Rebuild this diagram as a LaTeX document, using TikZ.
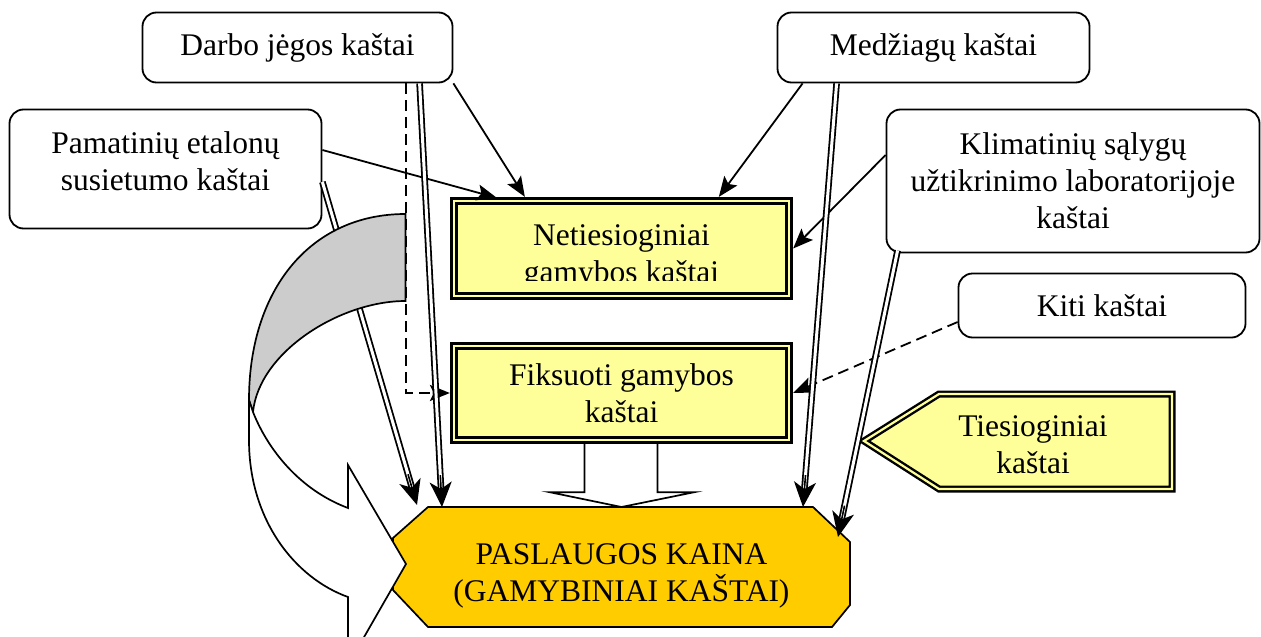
\documentclass[tikz,border=0pt]{standalone}
\usepackage{fontspec}
\setmainfont{Liberation Serif}
\usetikzlibrary{arrows.meta,calc}
\definecolor{ylw}{HTML}{FFFF99}
\definecolor{goldfill}{HTML}{FFCC00}
\definecolor{grayband}{HTML}{CCCCCC}
\begin{document}
\begin{tikzpicture}[x=1pt,y=-1pt,
  txt/.style={font=\fontsize{31.5}{37}\selectfont, align=center},
  rbox/.style={txt, draw, line width=1.8pt, rounded corners=14pt, fill=white, inner sep=0pt},
  ybox/.style={draw, line width=2.7pt, double=ylw, double distance=2.4pt, fill=ylw, inner sep=0pt, outer sep=3.9pt},
  conn/.style={line width=1.8pt, -{Stealth[length=20pt,width=16pt,inset=4pt]}},
  dsh/.style={conn, dash pattern=on 11pt off 6pt},
  dbl/.style={line width=1.8pt, double=white, double distance=3pt, shorten >=16pt},
  headonly/.style={line width=1.6pt, -{Stealth[length=25pt,width=22pt,inset=7pt]}},
  shapeline/.style={line width=1.7pt},
]
\clip (0,0) rectangle (1261,637);

% rounded boxes
\node[rbox, minimum width=310, minimum height=70] (darbo) at (297.5,47.5) {Darbo jėgos kaštai};
\node[rbox, minimum width=312, minimum height=70] (med) at (933.5,47.5) {Medžiagų kaštai};
\node[rbox, minimum width=312, minimum height=119, text depth=16pt] (pam) at (165.5,169) {Pamatinių etalonų\\susietumo kaštai};
\node[rbox, minimum width=373, minimum height=143] (klim) at (1073,181) {Klimatinių sąlygų\\užtikrinimo laboratorijoje\\kaštai};
\node[rbox, minimum width=287, minimum height=64] (kiti) at (1102,305.5) {Kiti kaštai};

% yellow boxes
\node[ybox, minimum width=335.5, minimum height=95.5] (net) at (621.5,248.5) {};
\begin{scope}
  \clip (450,197) rectangle (793,280);
  \node[txt, anchor=base, inner sep=0pt] (nettxt) at (621.5,282) {Netiesioginiai\\gamybos kaštai};
\end{scope}
\node[ybox, txt, minimum width=335.5, minimum height=94.5] (fiks) at (621.5,393) {Fiksuoti gamybos\\kaštai};

% price octagon
\draw[shapeline, fill=goldfill] (428,507) -- (813,507) -- (850,542) -- (850,605) -- (832,627) -- (428,627) -- (393,590) -- (393,538) -- cycle;
\node[minimum width=457, minimum height=120, inner sep=0pt, outer sep=0pt] (price) at (621.5,567) {};
\node[txt, anchor=base, inner sep=0pt] (pricetxt) at (621.5,601) {PASLAUGOS KAINA\\(GAMYBINIAI KAŠTAI)};

% direct costs pointer
\draw[line width=2.4pt, double=ylw, double distance=2.2pt, fill=ylw] (864,441) -- (939,394) -- (1172,394) -- (1172,489) -- (939,489) -- cycle;
\node[txt, inner sep=0pt] (tie) at (1033,445) {Tiesioginiai\\kaštai};

% thin connectors
\draw[conn] (darbo.south east) -- ($(net.north west)+(75,0)$);
\draw[conn] ($(pam.east)+(0,-19)$) -- ($(net.north west)+(47,1)$);
\draw[conn] ($(med.south west)+(26,0)$) -- ($(net.north west)+(269,0)$);
\draw[conn] ($(klim.west)+(0,-26)$) -- (net.east);
\draw[dsh] ($(kiti.west)+(0,16.5)$) -- (fiks.east);
\draw[dsh] ($(darbo.south west)+(264,0)$) |- (fiks.west);

% double connectors
\coordinate (a1) at ($(darbo.south west)+(278,0)$);
\coordinate (a1e) at ($(price.north west)+(49,0)$);
\coordinate (a2) at ($(pam.east)+(0,13)$);
\coordinate (a2e) at ($(price.north west)+(24,-2)$);
\coordinate (a3) at ($(med.south west)+(60,0)$);
\coordinate (a3e) at ($(price.north west)+(410,0)$);
\coordinate (a4) at ($(klim.south west)+(12,-3)$);
\coordinate (a4e) at ($(price.north east)+(-12,30)$);
\foreach \s/\e in {a1/a1e,a2/a2e,a3/a3e,a4/a4e}{
  \draw[dbl] (\s) -- (\e);
  \draw[headonly] ($(\e)!32pt!(\s)$) -- (\e);
}

% block arrow from fixed costs to price
\draw[shapeline, fill=white] ($(fiks.south)+(-37,0)$) -- ($(fiks.south)+(-37,48)$) -- ($(fiks.south)+(-72,48)$) -- (price.north) -- ($(fiks.south)+(73,48)$) -- ($(fiks.south)+(36,48)$) -- ($(fiks.south)+(36,0)$);

% curved arrow
\draw[shapeline, fill=grayband] (405.5,214) .. controls (310,214) and (249,290) .. (249,400) -- (253,412) .. controls (259,352) and (340,301) .. (405.5,301) -- cycle;
\draw[shapeline, fill=white] (249,400) -- (249,440) .. controls (249,520) and (295,578) .. (348,597) -- (348,665) -- (406,564) -- (348,465) -- (348,508) .. controls (300,490) and (268,450) .. (253,412) -- cycle;
\end{tikzpicture}
\end{document}
